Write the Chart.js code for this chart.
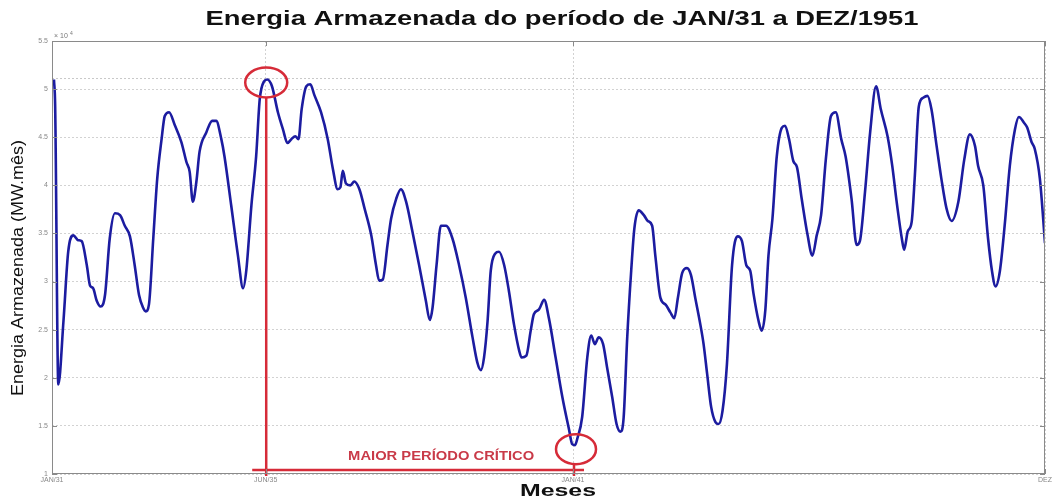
<!DOCTYPE html>
<html>
<head>
<meta charset="utf-8">
<script src="https://cdn.jsdelivr.net/npm/chart.js@4.4.1/dist/chart.umd.min.js"></script>
<style>
  html, body { margin: 0; padding: 0; background: #fff; }
  #box { width: 1054px; height: 500px; }
</style>
</head>
<body>
<div id="box"><canvas id="energiaChart"></canvas></div>
<script>
// Meses contados a partir de JAN/31 (0) ate DEZ/51 (251)
const meses = [
  0.5, 0.8, 1.6, 2.9, 4.1, 5.4, 6.6, 7.5, 8.8, 9.6, 10.4, 11.3, 12.3, 13.4, 14.6, 15.9,
  17.2, 18.4, 19.7, 20.9, 22.0, 23.0, 23.7, 24.5, 25.6, 26.6, 27.7, 28.5, 29.6, 31.0,
  32.7, 34.0, 34.8, 35.6, 36.5, 37.3, 39.0, 40.5, 41.5, 42.8, 43.6, 45.3, 47.0, 48.3,
  49.1, 50.4, 51.6, 52.5, 53.6, 54.4, 55.6, 57.1, 58.4, 59.5, 60.5, 61.5, 62.3, 63.1,
  64.3, 65.3, 66.3, 68.0, 69.7, 71.0, 72.2, 72.9, 73.5, 74.3, 75.4, 76.4, 77.7, 79.0,
  80.7, 81.9, 82.7, 83.6, 84.8, 85.7, 87.0, 88.2, 89.5, 91.1, 92.8, 94.5, 95.5, 96.2,
  97.2, 98.3, 99.6, 101.2, 102.9, 104.6, 106.3, 107.5, 108.4, 109.2, 110.1, 110.9,
  112.0, 113.0, 114.3, 115.5, 116.8, 118.1, 118.7, 119.9, 121.0, 121.8, 123.1, 124.4,
  125.6, 127.3, 129.0, 130.7, 131.5, 132.2, 132.8, 134.0, 135.3, 136.3, 137.2, 138.2,
  139.3, 140.3, 141.6, 142.7, 143.7, 144.5, 145.4, 146.4, 147.2, 148.3, 149.6, 150.6,
  151.7, 152.5, 153.8, 155.1, 156.3, 157.3, 158.2, 159.3, 160.5, 161.5, 162.6, 163.9,
  164.7, 165.6, 166.6, 167.7, 168.5, 169.5, 170.6, 171.9, 173.3, 174.4, 175.5, 176.5,
  177.3, 178.6, 179.4, 180.3, 181.1, 182.1, 183.2, 184.5, 185.3, 186.3, 187.4, 188.3,
  189.5, 191.0, 192.2, 193.3, 194.4, 195.6, 196.9, 198.1, 199.5, 200.6, 202.1, 203.4,
  204.2, 205.5, 206.8, 208.3, 209.5, 211.2, 212.4, 213.5, 214.8, 215.4, 216.3, 217.3,
  218.1, 219.1, 220.2, 221.3, 222.3, 223.6, 224.8, 226.1, 227.4, 229.1, 230.6, 232.0,
  233.3, 234.1, 235.4, 236.6, 237.6, 238.5, 239.6, 240.8, 242.1, 243.4, 244.4, 245.7,
  246.5, 247.6, 248.4, 249.7, 251.0
];

// Energia armazenada (x 10^4 MW.mes)
const energia = [
  5.10, 4.82, 1.93, 2.59, 3.31, 3.48, 3.43, 3.42, 3.17, 2.96, 2.93, 2.80, 2.74, 2.86, 3.45, 3.71,
  3.69, 3.58, 3.47, 3.17, 2.86, 2.73, 2.69, 2.76, 3.45, 4.07, 4.48, 4.72, 4.76, 4.63,
  4.45, 4.24, 4.14, 3.83, 4.04, 4.35, 4.55, 4.67, 4.67, 4.48, 4.30, 3.79, 3.27, 2.93,
  3.11, 3.79, 4.30, 4.89, 5.08, 5.10, 5.03, 4.76, 4.58, 4.44, 4.48, 4.51, 4.48, 4.79,
  5.03, 5.05, 4.94, 4.76, 4.48, 4.17, 3.96, 3.98, 4.15, 4.02, 4.00, 4.04, 3.96, 3.76,
  3.48, 3.17, 3.01, 3.02, 3.38, 3.65, 3.86, 3.96, 3.83, 3.52, 3.17, 2.80, 2.60, 2.73,
  3.17, 3.58, 3.58, 3.45, 3.17, 2.83, 2.42, 2.16, 2.08, 2.21, 2.59, 3.11,
  3.29, 3.31, 3.17, 2.90, 2.55, 2.28, 2.21, 2.23, 2.49, 2.66, 2.71, 2.81,
  2.62, 2.21, 1.80, 1.46, 1.31, 1.30, 1.37, 1.59, 2.21, 2.44, 2.35, 2.42,
  2.35, 2.11, 1.80, 1.52, 1.44, 1.59, 2.42, 3.11, 3.55, 3.74, 3.69, 3.63,
  3.58, 3.27, 2.83, 2.76, 2.68, 2.62, 2.83, 3.09, 3.14, 3.07, 2.83, 2.55,
  2.35, 2.04, 1.70, 1.54, 1.52, 1.66, 2.14, 3.17, 3.47, 3.42, 3.17, 3.11,
  2.88, 2.59, 2.49, 2.70, 3.27, 3.65, 4.30, 4.60, 4.62, 4.48, 4.25, 4.19,
  3.86, 3.48, 3.27, 3.48, 3.69, 4.27, 4.72, 4.76, 4.48, 4.30, 3.86, 3.38,
  3.42, 3.93, 4.55, 5.03, 4.79, 4.51, 4.20, 3.83, 3.45, 3.33, 3.52, 3.62,
  4.10, 4.82, 4.91, 4.93, 4.79, 4.41, 4.07, 3.76, 3.63, 3.83, 4.27, 4.53,
  4.41, 4.20, 4.00, 3.45, 3.11, 2.95, 3.11, 3.58, 4.20, 4.58, 4.71, 4.65,
  4.60, 4.45, 4.38, 4.07, 3.40
];

// linha pontilhada de referencia no topo
const nivelRefMeses = [0, 251];
const nivelRef = [5.11, 5.11];

const tickMeses = [0, 54, 131.7, 251];
const tickRotulos = ['JAN/31', 'JUN/35', 'JAN/41', 'DEZ'];
const tickEnergia = [1, 1.5, 2, 2.5, 3, 3.5, 4, 4.5, 5, 5.5];

const FONTE = "'Liberation Sans', Arial, sans-serif";
const VERMELHO = '#d62b38';

// texto esticado na horizontal ate a largura desejada (figura original foi esticada)
function textoEsticado(ctx, texto, x, y, largura, angulo) {
  const w = ctx.measureText(texto).width;
  ctx.save();
  ctx.translate(x, y);
  if (angulo) ctx.rotate(angulo);
  ctx.scale(largura / w, 1);
  ctx.textAlign = 'center';
  ctx.textBaseline = 'middle';
  ctx.fillText(texto, 0, 0);
  ctx.restore();
}

// moldura estilo matlab + titulos + expoente
const molduraPlugin = {
  id: 'moldura',
  afterDraw(chart) {
    const ctx = chart.ctx;
    const a = chart.chartArea;
    const xs = chart.scales.x, ys = chart.scales.y;
    ctx.save();
    ctx.strokeStyle = '#8a8a8a';
    ctx.lineWidth = 1;
    ctx.strokeRect(a.left + 0.5, a.top + 0.5, a.right - a.left - 1, a.bottom - a.top - 1);
    // marcas internas
    ctx.beginPath();
    tickEnergia.forEach(v => {
      const y = Math.round(ys.getPixelForValue(v)) + 0.5;
      ctx.moveTo(a.left, y); ctx.lineTo(a.left + 5, y);
      ctx.moveTo(a.right, y); ctx.lineTo(a.right - 5, y);
    });
    tickMeses.forEach(m => {
      const x = Math.round(xs.getPixelForValue(m)) + 0.5;
      ctx.moveTo(x, a.bottom); ctx.lineTo(x, a.bottom - 5);
      ctx.moveTo(x, a.top); ctx.lineTo(x, a.top + 5);
    });
    ctx.stroke();

    // expoente do eixo y
    ctx.fillStyle = '#777';
    ctx.font = '7px ' + FONTE;
    ctx.textBaseline = 'alphabetic';
    ctx.textAlign = 'left';
    ctx.fillText('\u00d7 10', a.left + 2, a.top - 3);
    ctx.font = '5px ' + FONTE;
    ctx.fillText('4', a.left + 18, a.top - 6);

    // titulo e rotulos dos eixos
    ctx.fillStyle = '#111';
    ctx.font = 'bold 21px ' + FONTE;
    textoEsticado(ctx, 'Energia Armazenada do período de JAN/31 a DEZ/1951', 562, 19, 713);
    ctx.font = 'bold 16px ' + FONTE;
    textoEsticado(ctx, 'Meses', 558, 492, 76);
    ctx.font = '16px ' + FONTE;
    textoEsticado(ctx, 'Energia Armazenada (MW.mês)', 19, 268, 256, -Math.PI / 2);
    ctx.restore();
  }
};

// marcacoes do periodo critico
const criticoPlugin = {
  id: 'critico',
  afterDatasetsDraw(chart) {
    const ctx = chart.ctx;
    const a = chart.chartArea;
    const xs = chart.scales.x, ys = chart.scales.y;
    let iPico = -1, iVale = 0;
    meses.forEach((m, i) => {
      if (m > 40 && m < 60 && (iPico < 0 || energia[i] > energia[iPico])) iPico = i;
      if (energia[i] < energia[iVale]) iVale = i;
    });
    const px = xs.getPixelForValue(meses[iPico]) - 1;
    const py = ys.getPixelForValue(energia[iPico]) + 3;
    const vx = xs.getPixelForValue(meses[iVale]) + 1;
    const vy = ys.getPixelForValue(energia[iVale]) + 4;
    const yBase = a.bottom - 4;
    ctx.save();
    ctx.strokeStyle = VERMELHO;
    ctx.lineWidth = 2.5;
    ctx.beginPath();
    ctx.ellipse(px, py, 21, 15, 0, 0, Math.PI * 2);
    ctx.stroke();
    ctx.beginPath();
    ctx.ellipse(vx, vy, 20, 15, 0, 0, Math.PI * 2);
    ctx.stroke();
    ctx.beginPath();
    ctx.moveTo(px, py + 15); ctx.lineTo(px, a.bottom + 2);
    ctx.moveTo(vx - 2, vy + 15); ctx.lineTo(vx - 2, a.bottom + 2);
    ctx.moveTo(px - 14, yBase); ctx.lineTo(vx + 8, yBase);
    ctx.stroke();
    ctx.fillStyle = '#c93a48';
    ctx.font = 'bold 13px ' + FONTE;
    textoEsticado(ctx, 'MAIOR PERÍODO CRÍTICO', (px + vx) / 2 + 20, yBase - 14, 186);
    ctx.restore();
  }
};

const ctx = document.getElementById('energiaChart').getContext('2d');
new Chart(ctx, {
  type: 'line',
  data: {
    datasets: [{
      label: 'Energia Armazenada',
      data: meses.map((m, i) => ({ x: m, y: energia[i] })),
      borderColor: '#1c1ca0',
      borderWidth: 2.6,
      pointRadius: 0,
      cubicInterpolationMode: 'monotone',
      fill: false
    }, {
      label: 'Referencia',
      data: nivelRefMeses.map((m, i) => ({ x: m, y: nivelRef[i] })),
      borderColor: '#c8c8c8',
      borderWidth: 1,
      borderDash: [2, 2],
      pointRadius: 0,
      fill: false
    }]
  },
  options: {
    responsive: true,
    maintainAspectRatio: false,
    animation: false,
    layout: { padding: { top: 41, left: 0, right: 7, bottom: 0 } },
    plugins: {
      legend: { display: false },
      tooltip: { enabled: false }
    },
    scales: {
      x: {
        type: 'linear',
        min: 0,
        max: 251,
        afterFit: s => { s.height = 26; },
        afterBuildTicks: s => { s.ticks = tickMeses.map(v => ({ value: v })); },
        ticks: {
          autoSkip: false,
          maxRotation: 0,
          padding: 2,
          color: '#888',
          font: { family: FONTE, size: 7 },
          callback: (v, i) => tickRotulos[i]
        },
        grid: { color: '#d2d2d2', drawTicks: false },
        border: { display: false, dash: [2, 2] }
      },
      y: {
        min: 1,
        max: 5.5,
        afterFit: s => { s.width = 52; },
        afterBuildTicks: s => { s.ticks = tickEnergia.map(v => ({ value: v })); },
        ticks: {
          padding: 4,
          color: '#888',
          font: { family: FONTE, size: 7 },
          callback: v => String(v)
        },
        grid: { color: '#d2d2d2', drawTicks: false },
        border: { display: false, dash: [2, 2] }
      }
    }
  },
  plugins: [molduraPlugin, criticoPlugin]
});
</script>
</body>
</html>
